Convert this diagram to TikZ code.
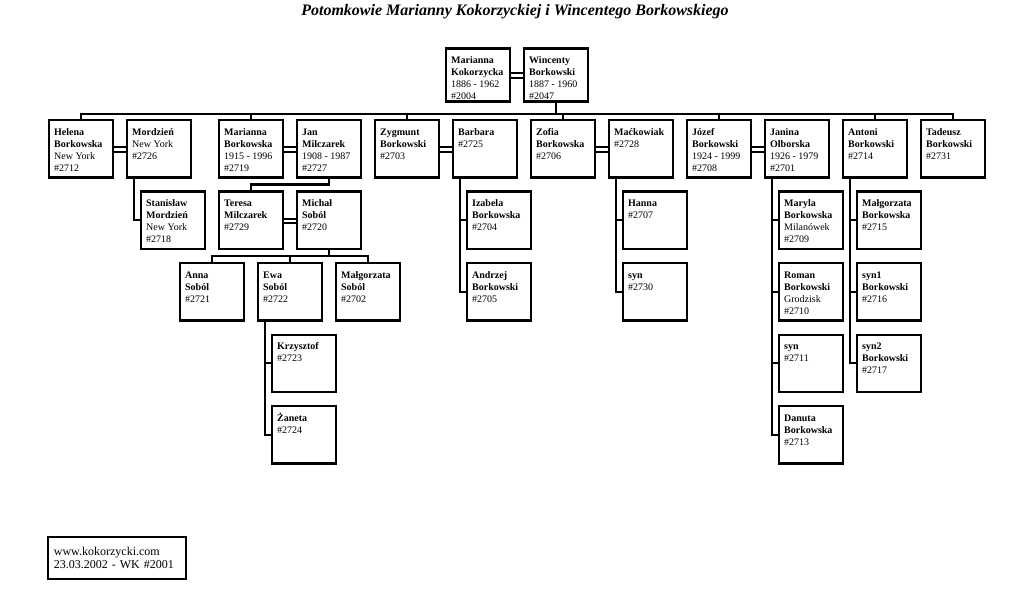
\documentclass[tikz,border=0pt]{standalone}
\usepackage{fontspec}
\setmainfont{Liberation Serif}
\newcommand\bnm[1]{\textbf{#1}}
\newcommand\pp[2][43.9pt]{\parbox[t][#1][t]{53.8pt}{\raggedright\hyphenpenalty=10000 \strut #2}}
\tikzset{
  pbox/.style={draw, line width=2.3pt, anchor=north west, inner xsep=5pt, inner ysep=6.7pt,
    font=\fontsize{10}{12}\selectfont},
  link/.style={line width=2.3pt},
  wed/.style={line width=2pt},
}
\begin{document}
\begin{tikzpicture}[x=1pt,y=-1pt]
\path[fill=white] (0,0) rectangle (1034,604);
\useasboundingbox (0,0) rectangle (1034,604);
\node[font=\fontsize{16}{19}\selectfont\bfseries\itshape] (title) at (515,12) {Potomkowie Marianny Kokorzyckiej i Wincentego Borkowskiego};
% generation 0
\node[pbox] (mk) at (445,47.3) {\pp[39.7pt]{\bnm{Marianna}\\\bnm{Kokorzycka}\\1886 - 1962\\\#2004}};
\node[pbox] (wb) at (523,47.3) {\pp[39.7pt]{\bnm{Wincenty}\\\bnm{Borkowski}\\1887 - 1960\\\#2047}};
% generation 1
\node[pbox] (hb) at (48,119) {\pp{\bnm{Helena}\\\bnm{Borkowska}\\New York\\\#2712}};
\node[pbox] (mo) at (126,119) {\pp{\bnm{Mordzień}\\New York\\\#2726}};
\node[pbox] (mb) at (218,119) {\pp{\bnm{Marianna}\\\bnm{Borkowska}\\1915 - 1996\\\#2719}};
\node[pbox] (jm) at (296,119) {\pp{\bnm{Jan}\\\bnm{Milczarek}\\1908 - 1987\\\#2727}};
\node[pbox] (zb) at (374,119) {\pp{\bnm{Zygmunt}\\\bnm{Borkowski}\\\#2703}};
\node[pbox] (ba) at (452,119) {\pp{\bnm{Barbara}\\\#2725}};
\node[pbox] (zo) at (530,119) {\pp{\bnm{Zofia}\\\bnm{Borkowska}\\\#2706}};
\node[pbox] (ma) at (608,119) {\pp{\bnm{Maćkowiak}\\\#2728}};
\node[pbox] (jb) at (686,119) {\pp{\bnm{Józef}\\\bnm{Borkowski}\\1924 - 1999\\\#2708}};
\node[pbox] (jo) at (764,119) {\pp{\bnm{Janina}\\\bnm{Olborska}\\1926 - 1979\\\#2701}};
\node[pbox] (ab) at (842,119) {\pp{\bnm{Antoni}\\\bnm{Borkowski}\\\#2714}};
\node[pbox] (tb) at (920,119) {\pp{\bnm{Tadeusz}\\\bnm{Borkowski}\\\#2731}};
% row 2
\node[pbox] (sm) at (140,190.5) {\pp{\bnm{Stanisław}\\\bnm{Mordzień}\\New York\\\#2718}};
\node[pbox] (tm) at (218,190.5) {\pp{\bnm{Teresa}\\\bnm{Milczarek}\\\#2729}};
\node[pbox] (ms) at (296,190.5) {\pp{\bnm{Michał}\\\bnm{Soból}\\\#2720}};
\node[pbox] (ib) at (466,190.5) {\pp{\bnm{Izabela}\\\bnm{Borkowska}\\\#2704}};
\node[pbox] (ha) at (622,190.5) {\pp{\bnm{Hanna}\\\#2707}};
\node[pbox] (my) at (778,190.5) {\pp{\bnm{Maryla}\\\bnm{Borkowska}\\Milanówek\\\#2709}};
\node[pbox] (mgb) at (856,190.5) {\pp{\bnm{Małgorzata}\\\bnm{Borkowska}\\\#2715}};
% row 3
\node[pbox] (as) at (179,262) {\pp{\bnm{Anna}\\\bnm{Soból}\\\#2721}};
\node[pbox] (es) at (257,262) {\pp{\bnm{Ewa}\\\bnm{Soból}\\\#2722}};
\node[pbox] (mgs) at (335,262) {\pp{\bnm{Małgorzata}\\\bnm{Soból}\\\#2702}};
\node[pbox] (ad) at (466,262) {\pp{\bnm{Andrzej}\\\bnm{Borkowski}\\\#2705}};
\node[pbox] (sy) at (622,262) {\pp{\bnm{syn}\\\#2730}};
\node[pbox] (rb) at (778,262) {\pp{\bnm{Roman}\\\bnm{Borkowski}\\Grodzisk\\\#2710}};
\node[pbox] (sa) at (856,262) {\pp{\bnm{syn1}\\\bnm{Borkowski}\\\#2716}};
% row 4
\node[pbox] (kr) at (271,333.5) {\pp{\bnm{Krzysztof}\\\#2723}};
\node[pbox] (sz) at (778,333.5) {\pp{\bnm{syn}\\\#2711}};
\node[pbox] (sb) at (856,333.5) {\pp{\bnm{syn2}\\\bnm{Borkowski}\\\#2717}};
% row 5
\node[pbox] (za) at (271,405) {\pp{\bnm{Żaneta}\\\#2724}};
\node[pbox] (db) at (778,405) {\pp{\bnm{Danuta}\\\bnm{Borkowska}\\\#2713}};
% footer
\node[draw, line width=2pt, anchor=north west, inner xsep=5.6pt, text width=126pt, minimum height=42pt, align=left,
  font=\fontsize{12}{12.5}\selectfont] (foot) at (47.3,536) {www.kokorzycki.com\\23.03.2002 - WK \#2001};
% marriage lines
\foreach \a/\b in {mk/wb,hb/mo,mb/jm,zb/ba,zo/ma,jb/jo,tm/ms}{
  \draw[wed] ([yshift=1.6pt]\a.east) -- ([yshift=1.6pt]\b.west);
  \draw[wed] ([yshift=-2.8pt]\a.east) -- ([yshift=-2.8pt]\b.west);
}
% generation bars
\coordinate (g1) at (0,114);
\coordinate (g2) at (0,184.5);
\coordinate (g3) at (0,256);
\draw[link] (wb.south) -- (wb.south |- g1);
\draw[link] (hb.north) -- (hb.north |- g1) -- (tb.north |- g1) -- (tb.north);
\foreach \n in {mb,zb,zo,jb,ab}{\draw[link] (\n.north) -- (\n.north |- g1);}
\draw[link] (jm.south) -- (jm.south |- g2) -- (tm.north |- g2) -- (tm.north);
\draw[link] (ms.south) -- (ms.south |- g3);
\draw[link] (as.north) -- (as.north |- g3) -- (mgs.north |- g3) -- (mgs.north);
\draw[link] (es.north) -- (es.north |- g3);
% vertical child lists
\coordinate (cmo) at ([xshift=8pt]mo.south west);
\draw[link] (cmo) |- (sm.west);
\coordinate (cba) at ([xshift=8pt]ba.south west);
\draw[link] (cba) |- (ad.west);
\draw[link] (ib.west -| cba) -- (ib.west);
\coordinate (cma) at ([xshift=8pt]ma.south west);
\draw[link] (cma) |- (sy.west);
\draw[link] (ha.west -| cma) -- (ha.west);
\coordinate (cjo) at ([xshift=8pt]jo.south west);
\draw[link] (cjo) |- (db.west);
\foreach \n in {my,rb,sz}{\draw[link] (\n.west -| cjo) -- (\n.west);}
\coordinate (cab) at ([xshift=8pt]ab.south west);
\draw[link] (cab) |- (sb.west);
\foreach \n in {mgb,sa}{\draw[link] (\n.west -| cab) -- (\n.west);}
\coordinate (ces) at ([xshift=8pt]es.south west);
\draw[link] (ces) |- (za.west);
\draw[link] (kr.west -| ces) -- (kr.west);
\end{tikzpicture}
\end{document}
